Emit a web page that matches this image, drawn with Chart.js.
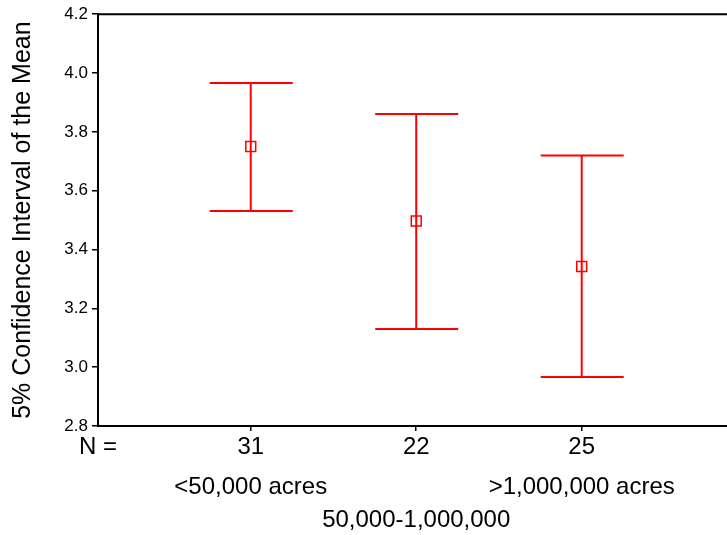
<!DOCTYPE html>
<html>
<head>
<meta charset="utf-8">
<script src="https://cdn.jsdelivr.net/npm/chart.js@4"></script>
<style>
  html, body { margin: 0; padding: 0; background: #fff; }
  #wrap { width: 727px; height: 535px; }
</style>
</head>
<body>
<div id="wrap"><canvas id="chart"></canvas></div>
<script>
// DATA
const groups = ['<50,000 acres', '50,000-1,000,000', '>1,000,000 acres'];
const counts = [31, 22, 25];
const means = [3.75, 3.497, 3.342];
const lower = [3.531, 3.130, 2.967];
const upper = [3.966, 3.861, 3.720];
const yTicks = [2.8, 3.0, 3.2, 3.4, 3.6, 3.8, 4.0, 4.2];

const RED = '#ff0000';
const FONT = '"Liberation Sans", Arial, sans-serif';

// error bars, top line and the group labels under the axis
const extras = {
    id: 'extras',
    beforeDatasetsDraw(chart) {
        const { ctx, scales: { x, y } } = chart;
        ctx.save();
        ctx.strokeStyle = RED;
        ctx.lineWidth = 2;
        groups.forEach((g, i) => {
            const px = x.getPixelForValue(i + 1);
            const top = y.getPixelForValue(upper[i]);
            const bot = y.getPixelForValue(lower[i]);
            ctx.beginPath();
            ctx.moveTo(px, top); ctx.lineTo(px, bot);
            ctx.moveTo(px - 41, top); ctx.lineTo(px + 42, top);
            ctx.moveTo(px - 41, bot); ctx.lineTo(px + 42, bot);
            ctx.stroke();
        });
        ctx.restore();
    },
    afterDraw(chart) {
        const { ctx, chartArea, scales: { x } } = chart;
        ctx.save();
        ctx.strokeStyle = '#000';
        ctx.lineWidth = 2;
        ctx.beginPath();
        ctx.moveTo(chartArea.left - 1, chartArea.top);
        ctx.lineTo(chartArea.right, chartArea.top);
        ctx.stroke();

        ctx.fillStyle = '#000';
        ctx.font = '24px ' + FONT;
        ctx.textAlign = 'center';
        ctx.textBaseline = 'middle';
        ctx.fillText('N =', chartArea.left, 447);
        ctx.fillText(groups[0], x.getPixelForValue(1), 487);
        ctx.fillText(groups[2], x.getPixelForValue(3), 487);
        ctx.fillText(groups[1], x.getPixelForValue(2), 520);
        ctx.restore();
    }
};

new Chart(document.getElementById('chart'), {
    type: 'scatter',
    data: {
        datasets: [{
            data: means.map((m, i) => ({ x: i + 1, y: m })),
            pointStyle: 'rect',
            pointRadius: 7,
            pointHoverRadius: 7,
            borderColor: RED,
            backgroundColor: 'rgba(0,0,0,0)',
            borderWidth: 1.5
        }]
    },
    options: {
        responsive: true,
        maintainAspectRatio: false,
        animation: false,
        events: [],
        layout: { autoPadding: false, padding: { top: 14, left: 0, right: 0, bottom: 0 } },
        plugins: { legend: { display: false }, tooltip: { enabled: false } },
        scales: {
            x: {
                type: 'linear',
                min: 0.077,
                max: 3.878,
                afterBuildTicks: s => { s.ticks = counts.map((c, i) => ({ value: i + 1 })); },
                afterFit: s => { s.height = 109; s.paddingLeft = 0; s.paddingRight = 0; },
                ticks: {
                    color: '#000',
                    font: { family: FONT, size: 24 },
                    padding: 2,
                    maxRotation: 0,
                    callback: (v) => counts[Math.round(v) - 1]
                },
                grid: { drawOnChartArea: false, tickLength: 5, color: '#000', lineWidth: 1.5 },
                border: { display: true, color: '#000', width: 2 }
            },
            y: {
                min: 2.8,
                max: 4.2,
                afterBuildTicks: s => { s.ticks = yTicks.map(v => ({ value: v })); },
                afterFit: s => { s.width = 98; },
                ticks: {
                    color: '#000',
                    font: { family: FONT, size: 17 },
                    padding: 4,
                    callback: v => v.toFixed(1)
                },
                grid: { drawOnChartArea: false, tickLength: 6, color: '#000', lineWidth: 1.5 },
                border: { display: true, color: '#000', width: 2 },
                title: {
                    display: true,
                    text: '5% Confidence Interval of the Mean',
                    color: '#000',
                    font: { family: FONT, size: 25 },
                    padding: { top: 8, bottom: 0 }
                }
            }
        }
    },
    plugins: [extras]
});
</script>
</body>
</html>
